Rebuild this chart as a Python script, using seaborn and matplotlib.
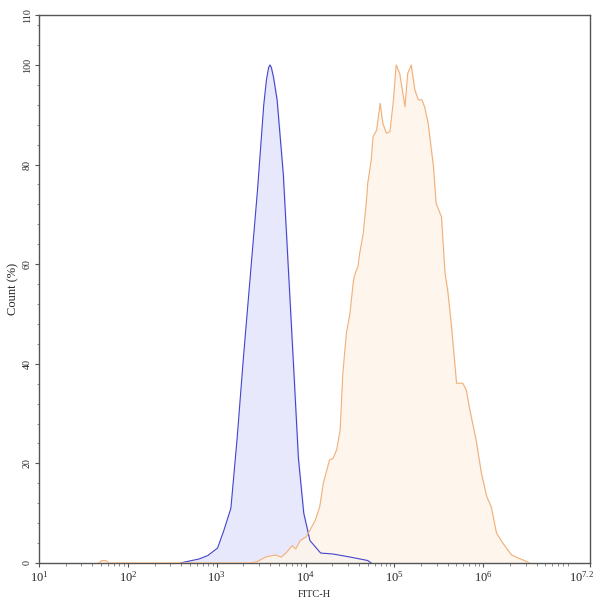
import matplotlib
matplotlib.use('Agg')
import matplotlib.pyplot as plt
import matplotlib.ticker as mticker
import matplotlib.transforms as mtransforms
import numpy as np
import pandas as pd
import seaborn as sns

# log10(FITC-H) positions and count (%)
blue_logx = [2.59, 2.80, 2.90, 3.01, 3.08, 3.16, 3.23, 3.30, 3.38, 3.46, 3.53,
             3.56, 3.585, 3.60, 3.615, 3.64, 3.68, 3.75, 3.81, 3.87, 3.92, 3.98,
             4.05, 4.17, 4.31, 4.50, 4.70, 4.74]
blue_y = [0, 0.8, 1.5, 3, 6.5, 11, 25, 41, 58, 75, 92,
          97, 99.5, 100, 99.5, 97.5, 93, 78, 58, 38, 21, 10,
          4.5, 2, 1.8, 1.2, 0.5, 0]

orange_logx = [1.67, 1.71, 1.75, 1.79, 3.37, 3.46, 3.55, 3.66, 3.73, 3.79, 3.85,
               3.89, 3.94, 4.01, 4.05, 4.11, 4.16, 4.20, 4.24, 4.27, 4.31, 4.35,
               4.39, 4.42, 4.46, 4.50, 4.54, 4.56, 4.59, 4.61, 4.65, 4.69, 4.70,
               4.74, 4.76, 4.80, 4.84, 4.87, 4.91, 4.95, 4.99, 5.02, 5.06, 5.12,
               5.15, 5.19, 5.23, 5.27, 5.31, 5.34, 5.38, 5.44, 5.47, 5.53, 5.57,
               5.60, 5.64, 5.70, 5.77, 5.81, 5.85, 5.92, 5.98, 6.04, 6.09, 6.15,
               6.22, 6.32, 6.41, 6.49, 6.52]
orange_y = [0, 0.5, 0.5, 0, 0, 0.3, 1.2, 1.6, 1.2, 2.2, 3.5,
            2.8, 4.5, 5.3, 6.6, 8.6, 11.3, 16.0, 18.7, 20.7, 21.0, 22.7,
            26.7, 38.1, 46.1, 50.1, 56.8, 58.2, 59.5, 62.2, 66.2, 73.6, 76.2,
            80.9, 85.6, 86.9, 92.3, 88.3, 86.3, 86.6, 93.0, 100, 98.3, 91.6,
            98.3, 100, 95, 93, 93, 91.6, 88.3, 79.6, 72.2, 69.5, 58.2,
            54.8, 48.1, 36.1, 36.1, 34.7, 30.7, 24.7, 18.0, 13.3, 11.3, 6.0,
            4.0, 1.6, 0.9, 0.3, 0]

x_ticks_log = [1, 2, 3, 4, 5, 6, 7.2]
x_tick_labels = ['$10^{1}$', '$10^{2}$', '$10^{3}$', '$10^{4}$', '$10^{5}$', '$10^{6}$', '$10^{7.2}$']
y_ticks = [0, 20, 40, 60, 80, 100, 110]

blue = pd.DataFrame({'x': 10 ** np.array(blue_logx), 'y': blue_y})
orange = pd.DataFrame({'x': 10 ** np.array(orange_logx), 'y': orange_y})

sns.set_style('white')
plt.rcParams['font.family'] = ['Liberation Serif', 'DejaVu Serif']
plt.rcParams['mathtext.fontset'] = 'custom'
plt.rcParams['mathtext.rm'] = 'Liberation Serif'
plt.rcParams['mathtext.it'] = 'Liberation Serif'

fig = plt.figure(figsize=(6.0, 6.02), dpi=100)
ax = fig.add_axes([0.065, 0.0648, 0.918, 0.910])

ax.fill_between(blue['x'], blue['y'], color='#e8e8fc', zorder=1)
ax.fill_between(orange['x'], orange['y'], color='#fef4ea', alpha=0.85, zorder=2)
sns.lineplot(data=blue, x='x', y='y', ax=ax, color='#4444cc', linewidth=0.8,
             sort=False, zorder=3)
sns.lineplot(data=orange, x='x', y='y', ax=ax, color='#f0b07a', linewidth=0.8,
             sort=False, zorder=4)

ax.set_xscale('log')
ax.set_xlim(10, 10 ** 7.2)
ax.set_ylim(0, 110)

ax.xaxis.set_major_locator(mticker.FixedLocator([10 ** v for v in x_ticks_log]))
ax.xaxis.set_major_formatter(mticker.FixedFormatter(x_tick_labels))
ax.xaxis.set_minor_locator(mticker.LogLocator(base=10, subs=np.arange(2, 10)))
ax.xaxis.set_minor_formatter(mticker.NullFormatter())

ax.set_yticks(y_ticks)
ax.yaxis.set_minor_locator(mticker.MultipleLocator(4))
for lab in ax.get_yticklabels():
    lab.set_rotation(90)
    lab.set_va('center')

ax.tick_params(axis='both', which='both', bottom=True, left=True, top=False, right=False)
ax.tick_params(axis='both', which='major', direction='out', length=3, width=0.8,
               color='#555555')
ax.tick_params(axis='both', which='minor', direction='out', length=1.8, width=0.6,
               color='#777777')
ax.tick_params(axis='y', which='major', labelsize=7.2, pad=2)
ax.tick_params(axis='x', which='major', labelsize=9, pad=2)

# keep the last tick label inside the figure
fig.canvas.draw()
last = ax.get_xticklabels()[-1]
last.set_transform(last.get_transform() +
                   mtransforms.ScaledTranslation(-6 / 72, 0, fig.dpi_scale_trans))

for side in ['left', 'right', 'top', 'bottom']:
    ax.spines[side].set_visible(True)
    ax.spines[side].set_color('#555555')
    ax.spines[side].set_linewidth(1.0)

ax.set_xlabel('FITC-H', fontsize=7.5, labelpad=4)
ax.set_ylabel('Count (%)', fontsize=9, labelpad=3)

fig.savefig('out.png', dpi=100)
